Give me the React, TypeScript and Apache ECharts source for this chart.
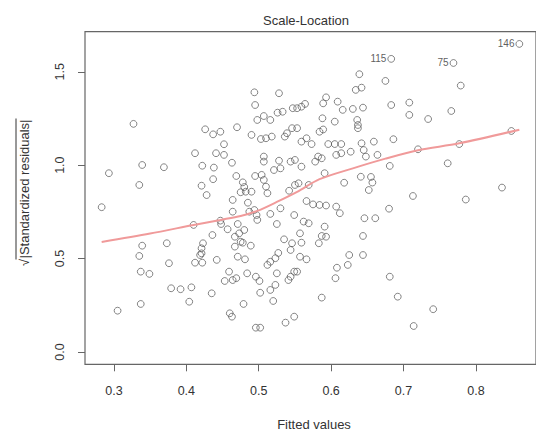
import React, { useEffect, useRef } from "react";
import * as echarts from "echarts";

const fittedValues = [
  0.327, 0.494, 0.528, 0.495, 0.426, 0.437, 0.447, 0.470, 0.498, 0.507,
  0.516, 0.526, 0.533, 0.547, 0.490, 0.503, 0.510, 0.518, 0.536, 0.539,
  0.546, 0.553, 0.452, 0.412, 0.441, 0.452, 0.507, 0.507, 0.528, 0.544,
  0.550, 0.339, 0.369, 0.293, 0.335, 0.422, 0.438, 0.463, 0.437, 0.421,
  0.428, 0.469, 0.478, 0.480, 0.482, 0.495, 0.504, 0.507, 0.510, 0.512,
  0.521, 0.475, 0.490, 0.464, 0.485, 0.542, 0.550, 0.283, 0.530, 0.464,
  0.487, 0.494, 0.497, 0.498, 0.516, 0.525, 0.549, 0.410, 0.447, 0.448,
  0.457, 0.471, 0.473, 0.467, 0.475, 0.436, 0.480, 0.467, 0.478, 0.489,
  0.471, 0.481, 0.339, 0.335, 0.373, 0.376, 0.423, 0.421, 0.421, 0.419,
  0.412, 0.422, 0.442, 0.337, 0.349, 0.459, 0.453, 0.464, 0.469, 0.484,
  0.496, 0.501, 0.379, 0.392, 0.407, 0.435, 0.404, 0.337, 0.305, 0.460,
  0.463, 0.479, 0.502, 0.516, 0.520, 0.496, 0.502, 0.516, 0.523, 0.527,
  0.525, 0.544, 0.549, 0.537, 0.549, 0.535, 0.544, 0.512, 0.523, 0.639,
  0.675, 0.779, 0.634, 0.642, 0.593, 0.589, 0.609, 0.616, 0.630, 0.644,
  0.559, 0.553, 0.564, 0.683, 0.708, 0.708, 0.734, 0.766, 0.588, 0.605,
  0.636, 0.637, 0.637, 0.584, 0.589, 0.659, 0.642, 0.645, 0.648, 0.559,
  0.566, 0.573, 0.596, 0.605, 0.614, 0.627, 0.607, 0.614, 0.582, 0.587,
  0.578, 0.664, 0.686, 0.559, 0.530, 0.720, 0.777, 0.761, 0.681,
  0.591, 0.618, 0.641, 0.655, 0.657, 0.652, 0.555, 0.569, 0.713, 0.786,
  0.836, 0.566, 0.575, 0.584, 0.593, 0.607, 0.680, 0.849, 0.612, 0.646,
  0.661, 0.562, 0.569, 0.557, 0.559, 0.557, 0.566, 0.591, 0.587,
  0.593, 0.583, 0.644, 0.546, 0.625, 0.623, 0.608, 0.606, 0.644,
  0.553, 0.541, 0.681, 0.692, 0.587, 0.741, 0.714,
];

const sqrtStdResiduals = [
  1.221, 1.390, 1.385, 1.322, 1.192, 1.165, 1.179, 1.203, 1.242, 1.263,
  1.242, 1.281, 1.286, 1.305, 1.162, 1.140, 1.144, 1.153, 1.153, 1.171,
  1.198, 1.198, 1.112, 1.064, 1.064, 1.055, 1.046, 1.019, 1.024, 1.019,
  1.028, 1.001, 0.989, 0.957, 0.894, 0.997, 0.987, 1.013, 0.925, 0.890,
  0.840, 0.942, 0.908, 0.883, 0.858, 0.942, 0.948, 0.921, 0.885, 0.850,
  0.974, 0.855, 0.858, 0.814, 0.799, 0.863, 0.894, 0.775, 0.769, 0.751,
  0.751, 0.760, 0.733, 0.707, 0.739, 0.685, 0.733, 0.680, 0.703, 0.685,
  0.657, 0.685, 0.635, 0.617, 0.590, 0.626, 0.653, 0.564, 0.585, 0.569,
  0.510, 0.496, 0.569, 0.514, 0.582, 0.475, 0.582, 0.555, 0.528, 0.519,
  0.478, 0.478, 0.493, 0.430, 0.418, 0.430, 0.380, 0.385, 0.395, 0.421,
  0.403, 0.380, 0.341, 0.336, 0.346, 0.314, 0.269, 0.257, 0.221, 0.207,
  0.189, 0.257, 0.317, 0.332, 0.273, 0.130, 0.130, 0.483, 0.502, 0.530,
  0.421, 0.403, 0.430, 0.157, 0.189, 0.603, 0.546, 0.466, 0.359, 1.487,
  1.451, 1.426, 1.403, 1.415, 1.363, 1.331, 1.340, 1.296, 1.301, 1.308,
  1.313, 1.305, 1.328, 1.322, 1.335, 1.269, 1.247, 1.290, 1.251, 1.233,
  1.242, 1.215, 1.198, 1.179, 1.191, 1.126, 1.117, 1.081, 1.046, 1.126,
  1.144, 1.113, 1.113, 1.113, 1.113, 1.072, 1.055, 1.064, 1.046, 1.037,
  1.019, 1.055, 1.139, 0.992, 0.983, 1.085, 1.113, 1.010, 0.996,
  0.957, 0.906, 0.938, 0.937, 0.907, 0.867, 0.903, 0.894, 0.835, 0.816,
  0.880, 0.808, 0.790, 0.787, 0.784, 0.778, 0.767, 1.183, 0.743, 0.716,
  0.716, 0.698, 0.689, 0.635, 0.585, 0.510, 0.496, 0.671, 0.621,
  0.617, 0.582, 0.621, 0.582, 0.519, 0.466, 0.451, 0.395, 0.519,
  0.430, 0.385, 0.403, 0.296, 0.291, 0.229, 0.139,
];

const idLabels = ["146", "75", "115"];
const idFitted = [0.860, 0.769, 0.683];
const idResiduals = [1.649, 1.547, 1.569];

const lowessX = [0.283, 0.350, 0.410, 0.447, 0.475, 0.498, 0.525, 0.553, 0.584, 0.630, 0.675, 0.720, 0.777, 0.860];
const lowessY = [0.589, 0.634, 0.680, 0.707, 0.728, 0.755, 0.803, 0.857, 0.925, 0.983, 1.035, 1.080, 1.117, 1.190];

const xTicks = [0.3, 0.4, 0.5, 0.6, 0.7, 0.8];
const yTicks = [0, 0.5, 1.0, 1.5];

const FONT = "'Liberation Sans', Arial, Helvetica, sans-serif";
const TEXT = "#333";
const AXIS = "#666";

export default function App() {
  const ref = useRef<HTMLDivElement>(null);

  useEffect(() => {
    if (!ref.current) return;
    const chart = echarts.init(ref.current, null, { renderer: "svg" });

    const points = fittedValues.map((x, i) => [x, sqrtStdResiduals[i]]);
    const idPoints = idFitted.map((x, i) => [x, idResiduals[i]]);
    const smooth = lowessX.map((x, i) => [x, lowessY[i]]);

    const yTitleW = 139;

    chart.setOption({
      animation: false,
      backgroundColor: "#fff",
      grid: {
        left: 85,
        right: -7,
        top: 31.6,
        bottom: 67.7,
        show: true,
        borderColor: AXIS,
        borderWidth: 1.2,
        backgroundColor: "transparent",
      },
      xAxis: {
        type: "value",
        min: 0.26,
        max: 0.883,
        splitLine: { show: false },
        axisLine: { show: false, onZero: false },
        axisTick: { show: true, customValues: xTicks, length: 7, lineStyle: { color: AXIS, width: 1 } },
        axisLabel: {
          customValues: xTicks,
          formatter: (v: number) => v.toFixed(1),
          margin: 20,
          fontSize: 12.5,
          color: TEXT,
          fontFamily: FONT,
        },
      },
      yAxis: {
        type: "value",
        min: -0.066,
        max: 1.715,
        splitLine: { show: false },
        axisLine: { show: false, onZero: false },
        axisTick: { show: true, customValues: yTicks, length: 7, lineStyle: { color: AXIS, width: 1 } },
        axisLabel: {
          customValues: yTicks,
          formatter: (v: number) => v.toFixed(1),
          rotate: 90,
          margin: 19,
          fontSize: 12.5,
          color: TEXT,
          fontFamily: FONT,
        },
      },
      graphic: [
        {
          type: "text",
          x: 306,
          y: 20,
          style: {
            text: "Scale-Location",
            textAlign: "center",
            textVerticalAlign: "middle",
            fontSize: 13,
            fontFamily: FONT,
            fill: TEXT,
          },
        },
        {
          type: "text",
          x: 314,
          y: 424,
          style: {
            text: "Fitted values",
            textAlign: "center",
            textVerticalAlign: "middle",
            fontSize: 13,
            fontFamily: FONT,
            fill: TEXT,
          },
        },
        {
          type: "group",
          x: 24,
          y: 193,
          rotation: Math.PI / 2,
          children: [
            {
              type: "text",
              x: 4,
              y: 0,
              style: {
                text: "|Standardized residuals|",
                textAlign: "center",
                textVerticalAlign: "middle",
                fontSize: 13,
                fontFamily: FONT,
                fill: TEXT,
              },
            },
            {
              type: "text",
              x: 4 - yTitleW / 2 - 4,
              y: 0,
              style: {
                text: "√",
                textAlign: "center",
                textVerticalAlign: "middle",
                fontSize: 13,
                fontFamily: FONT,
                fill: TEXT,
              },
            },
            {
              type: "line",
              shape: { x1: 4 - yTitleW / 2 - 1, y1: -8, x2: 4 + yTitleW / 2 + 1, y2: -8 },
              style: { stroke: TEXT, lineWidth: 1 },
            },
          ],
        },
      ],
      series: [
        {
          type: "scatter",
          data: points,
          symbol: "circle",
          symbolSize: 6.8,
          itemStyle: { color: "rgba(0,0,0,0)", borderColor: "#555", borderWidth: 0.9 },
          silent: true,
        },
        {
          type: "scatter",
          data: idPoints,
          symbol: "circle",
          symbolSize: 6.8,
          itemStyle: { color: "rgba(0,0,0,0)", borderColor: "#555", borderWidth: 0.9 },
          label: {
            show: true,
            position: "left",
            distance: 1,
            formatter: (p: any) => idLabels[p.dataIndex],
            fontSize: 10,
            fontFamily: FONT,
            color: TEXT,
          },
          silent: true,
        },
        {
          type: "line",
          data: smooth,
          smooth: 0.3,
          symbol: "none",
          lineStyle: { color: "#f09a9a", width: 2 },
          silent: true,
        },
      ],
    });

    return () => chart.dispose();
  }, []);

  return (
    <div
      ref={ref}
      style={{ position: "absolute", left: 0, top: 0, width: 536, height: 432 }}
    />
  );
}
